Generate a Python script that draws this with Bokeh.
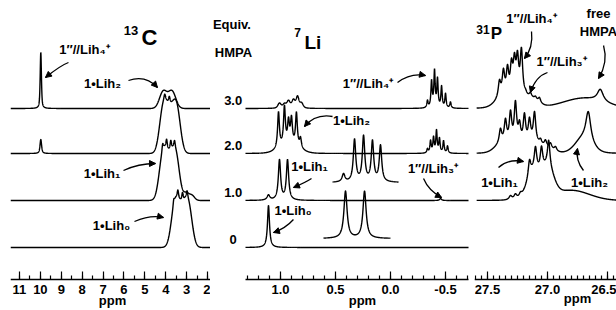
import numpy as np
from bokeh.plotting import figure
from bokeh.models import (Range1d, Label, Arrow, NormalHead, SingleIntervalTicker,
                          NumeralTickFormatter, LinearAxis)
from bokeh.layouts import row
from bokeh.embed import file_html
from bokeh.resources import INLINE

FONT = "Liberation Sans"

# ---------------- data ----------------
equiv = [0, 1.0, 2.0, 3.0]
equiv_text = ["0", "1.0", "2.0", "3.0"]

# peaks: (ppm, height, fwhm in ppm, lorentzian fraction)
c13_eq0 = [(3.56, 42, 0.42, 0), (3.24, 31, 0.42, 0), (2.92, 42, 0.42, 0),
           (3.62, 5, 0.07, 0.5), (3.42, 7, 0.07, 0.5), (3.20, 7, 0.07, 0.5), (2.98, 6, 0.07, 0.5)]
c13_eq1 = [(4.14, 44, 0.42, 0), (3.83, 32, 0.42, 0), (3.52, 44, 0.42, 0),
           (4.15, 6, 0.07, 0.5), (3.96, 8, 0.07, 0.5), (3.76, 8, 0.07, 0.5), (3.58, 6, 0.07, 0.5),
           (3.02, 7, 0.30, 0), (2.75, 5, 0.30, 0)]
c13_eq2 = [(9.98, 14, 0.09, 0.7), (4.12, 45, 0.42, 0), (3.80, 33, 0.42, 0), (3.48, 45, 0.42, 0),
           (4.05, 5, 0.08, 0.5), (3.83, 6, 0.08, 0.5)]
c13_eq3 = [(9.98, 56, 0.07, 0.6), (4.12, 17, 0.42, 0), (3.70, 17, 0.42, 0)]

li_eq0 = [(1.109, 42, 0.022, 1)]
li_eq1 = [(1.109, 5, 0.03, 1), (1.009, 40, 0.025, 1), (0.936, 40, 0.025, 1), (-0.455, 2, 0.02, 1)]
li_eq2 = [(1.018, 36, 0.02, 1), (0.964, 38, 0.02, 1), (0.927, 22, 0.02, 1), (0.900, 25, 0.02, 1),
          (0.855, 33, 0.02, 1), (0.818, 10, 0.02, 1), (0.92, 8, 0.20, 0),
          (-0.336, 4, 0.014, 1), (-0.364, 12, 0.014, 1), (-0.391, 15, 0.014, 1), (-0.418, 22, 0.014, 1),
          (-0.445, 14, 0.014, 1), (-0.482, 12, 0.014, 1), (-0.518, 7, 0.014, 1)]
li_eq3 = [(1.009, 5, 0.035, 0.5), (0.964, 4, 0.035, 0.5), (0.927, 7, 0.035, 0.5), (0.882, 8, 0.035, 0.5),
          (0.845, 11, 0.03, 0.5), (0.809, 5, 0.035, 0.5),
          (-0.336, 7, 0.014, 1), (-0.373, 26, 0.014, 1), (-0.400, 36, 0.014, 1), (-0.427, 28, 0.014, 1),
          (-0.464, 21, 0.014, 1), (-0.500, 14, 0.014, 1), (-0.545, 6, 0.014, 1)]
# expanded insets, given at their displayed positions on the 7Li axis
li_inset1 = [(0.427, 8, 0.03, 1), (0.327, 42, 0.027, 1), (0.245, 45, 0.027, 1),
             (0.164, 40, 0.027, 1), (0.091, 36, 0.027, 1)]
li_inset1_span = (0.527, -0.073)
li_inset0 = [(0.409, 47, 0.035, 1), (0.236, 47, 0.035, 1)]
li_inset0_span = (0.609, 0.0)

p_eq1 = [(27.308, 4, 0.03, 1), (27.267, 5, 0.03, 1), (27.225, 4, 0.03, 1),
         (27.12, 26, 0.12, 0), (27.00, 28, 0.12, 0),
         (27.15, 16, 0.025, 1), (27.10, 22, 0.025, 1), (27.05, 22, 0.025, 1), (26.99, 26, 0.025, 1),
         (26.80, 10, 0.35, 0)]
p_eq2 = [(27.38, 8, 0.14, 0), (27.25, 5, 0.14, 0), (27.12, 8, 0.14, 0),
         (27.392, 14, 0.025, 1), (27.350, 22, 0.025, 1), (27.308, 30, 0.025, 1), (27.267, 40, 0.025, 1),
         (27.233, 18, 0.025, 1), (27.192, 28, 0.025, 1), (27.150, 22, 0.025, 1), (27.108, 30, 0.025, 1),
         (27.0, 4, 0.12, 0), (27.058, 5, 0.025, 1), (27.017, 6, 0.025, 1), (26.975, 5, 0.025, 1),
         (26.933, 4, 0.025, 1), (26.66, 30, 0.05, 1), (26.70, 14, 0.16, 0)]
p_eq3 = [(27.38, 8, 0.14, 0), (27.26, 5, 0.14, 0), (27.14, 8, 0.14, 0),
         (27.400, 16, 0.025, 1), (27.367, 24, 0.025, 1), (27.333, 26, 0.025, 1), (27.300, 29, 0.025, 1),
         (27.275, 32, 0.025, 1), (27.250, 36, 0.025, 1), (27.217, 46, 0.025, 1),
         (27.183, 3, 0.025, 1), (27.142, 4, 0.025, 1), (27.100, 3, 0.025, 1), (27.067, 5, 0.025, 1),
         (26.70, 10, 0.40, 0), (26.56, 12, 0.06, 1)]

# ---------------- layout ----------------
row_base = [32, 79, 126, 171]      # vertical offset of each stacked spectrum
c13_span = (11.43, 1.86)
li_span = (1.318, -0.709)
p_span = (27.59, 26.425)
H = 310


def trace(xs, peaks):
    y = np.zeros_like(xs)
    for c, h, w, eta in peaks:
        d = (xs - c) / w
        y += h * (eta / (1 + 4 * d * d) + (1 - eta) * np.exp(-4 * np.log(2) * d * d))
    return y


def make_fig(xr, width, left, right, interval, minor, fmt, bounds="auto"):
    p = figure(width=width, height=H, x_range=Range1d(*xr), y_range=Range1d(-31, 279),
               output_backend="svg", toolbar_location=None,
               min_border_left=left, min_border_right=right, min_border_top=0, min_border_bottom=0,
               x_axis_location=None, y_axis_location=None, outline_line_color=None)
    p.grid.visible = False
    ax = LinearAxis(ticker=SingleIntervalTicker(interval=interval, num_minor_ticks=minor),
                    formatter=NumeralTickFormatter(format=fmt), fixed_location=0, bounds=bounds)
    ax.major_tick_in = 8
    ax.major_tick_out = 0
    ax.minor_tick_in = 4
    ax.minor_tick_out = 0
    ax.axis_line_width = 1.3
    ax.major_tick_line_width = 1.2
    ax.minor_tick_line_width = 1.2
    ax.axis_line_color = "black"
    ax.major_tick_line_color = "black"
    ax.minor_tick_line_color = "black"
    ax.major_label_text_font = FONT
    ax.major_label_text_font_size = "13px"
    ax.major_label_text_font_style = "bold"
    ax.major_label_text_color = "black"
    ax.major_label_standoff = 5
    p.add_layout(ax, "below")
    return p


def add_rows(p, span, rows):
    xs = np.linspace(span[0], span[1], 3000)
    for i, peaks in enumerate(rows):
        if peaks is None:
            continue
        p.line(xs, row_base[i] + trace(xs, peaks), line_color="black", line_width=1.4)


def add_inset(p, span, peaks, base):
    xs = np.linspace(span[0], span[1], 1500)
    p.line(xs, base + trace(xs, peaks), line_color="black", line_width=1.4)


def add_text(p, items, size="13px", align="center"):
    for txt, x, y in items:
        p.add_layout(Label(x=x, y=y, text=txt, text_font=FONT, text_font_size=size,
                           text_font_style="bold", text_align=align, text_baseline="middle",
                           text_color="black"))


def add_arrows(p, arrows):
    for x0, y0, cx, cy, x1, y1 in arrows:
        p.quadratic(x0=[x0], y0=[y0], cx=[cx], cy=[cy], x1=[x1], y1=[y1],
                    line_color="black", line_width=1.3)
        t = 0.15
        p.add_layout(Arrow(end=NormalHead(size=6, fill_color="black", line_color="black", line_width=1),
                           x_start=x1 - t * (x1 - cx), y_start=y1 - t * (y1 - cy),
                           x_end=x1, y_end=y1, line_color="black", line_width=1.3))


# ---------------- 13C ----------------
fc = make_fig((11.43, 1.86), 210, 10, 0, 1, 2, "0")
add_rows(fc, c13_span, [c13_eq0, c13_eq1, c13_eq2, c13_eq3])
add_text(fc, [("13", 5.67, 249)], size="13px")
add_text(fc, [("C", 4.78, 242.5)], size="22px")
add_text(fc, [("1\u2033//Lih\u2084\u207a", 7.89, 230), ("1\u2022Lih\u2082", 7.03, 196),
              ("1\u2022Lih\u2081", 7.05, 106.5), ("1\u2022Lih\u2080", 6.6, 54), ("ppm", 6.55, -21)])
add_arrows(fc, [(8.656, 217, 9.04, 214, 9.756, 202),
                (5.785, 199, 4.971, 205, 4.397, 192),
                (6.024, 109, 5.306, 116, 4.493, 116),
                (5.498, 58, 4.732, 65, 4.110, 62)])

# ---------------- 7Li ----------------
fl = make_fig((1.636, -0.727), 262, 0, 2, 0.5, 5, "0.0", bounds=(-0.709, 1.318))
add_rows(fl, li_span, [li_eq0, li_eq1, li_eq2, li_eq3])
add_inset(fl, li_inset1_span, li_inset1, 97)
add_inset(fl, li_inset0_span, li_inset0, 41)
add_text(fl, [("Equiv.", 1.441, 255), ("HMPA", 1.427, 227)])
add_text(fl, [(t, 1.43, row_base[i] + 8) for i, t in enumerate(equiv_text)])
add_text(fl, [("7", 0.845, 247)], size="12px")
add_text(fl, [("Li", 0.705, 237.5)], size="19px")
add_text(fl, [("1\u2033//Lih\u2084\u207a", 0.205, 196), ("1\u2022Lih\u2082", 0.355, 159),
              ("1\u2022Lih\u2081", 0.736, 113), ("1\u2022Lih\u2080", 0.886, 69),
              ("1\u2033//Lih\u2083\u207a", -0.386, 111.5), ("ppm", 0.255, -21)])
add_arrows(fl, [(-0.0636, 197, -0.1818, 207, -0.318, 204),
                (0.527, 163, 0.682, 166, 0.782, 153),
                (0.718, 101, 0.773, 97, 0.882, 92),
                (0.882, 60, 0.955, 51, 1.064, 47),
                (-0.300, 101, -0.345, 89, -0.464, 82)])

# ---------------- 31P ----------------
fp = make_fig((27.608, 26.425), 144, 2, 0, 0.5, 10, "0.0")
add_rows(fp, p_span, [None, p_eq1, p_eq2, p_eq3])
add_text(fp, [("31", 27.538, 250)], size="12px")
add_text(fp, [("P", 27.425, 246.5)], size="17px")
add_text(fp, [("1\u2033//Lih\u2084\u207a", 27.133, 261), ("1\u2033//Lih\u2083\u207a", 26.883, 218),
              ("free", 26.575, 266), ("HMPA", 26.575, 248),
              ("1\u2022Lih\u2081", 27.40, 97.5), ("1\u2022Lih\u2082", 26.65, 97.5),
              ("ppm", 26.75, -19)])
add_arrows(fp, [(27.133, 248, 27.117, 232, 27.192, 221),
                (27.0, 207, 27.1, 203, 27.142, 187),
                (26.533, 234, 26.492, 217, 26.575, 201),
                (27.408, 112, 27.325, 121, 27.2, 118),
                (26.7, 109, 26.767, 119, 26.75, 131)])

layout = row(fc, fl, fp)
open("out.html", "w").write(file_html(layout, INLINE, title="NMR spectra"))
